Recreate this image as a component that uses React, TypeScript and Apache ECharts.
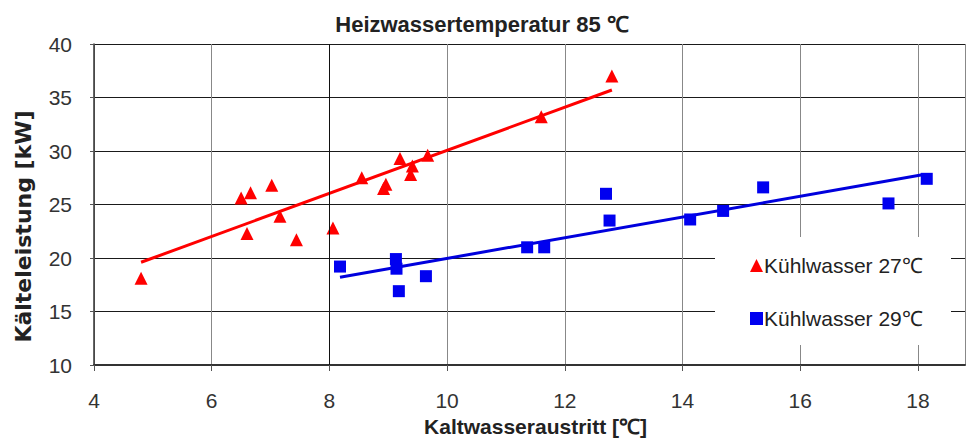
import React, { useEffect, useRef } from "react";
import * as echarts from "echarts";

const titleText = "Heizwassertemperatur 85 ℃";
const xName = "Kaltwasseraustritt [℃]";
const yName = "Kälteleistung [kW]";
const series27Name = "Kühlwasser 27℃";
const series29Name = "Kühlwasser 29℃";

const red27X = [4.8, 6.5, 6.66, 6.6, 7.02, 7.16, 7.44, 8.06, 8.55, 8.92, 8.96, 9.2, 9.41, 9.38, 9.67, 11.6, 12.8];
const red27Y = [18.1, 25.6, 26.1, 22.3, 26.8, 23.9, 21.7, 22.8, 27.5, 26.5, 26.9, 29.3, 28.6, 27.8, 29.6, 33.2, 37.0];
const blue29X = [8.18, 9.13, 9.14, 9.18, 9.64, 11.36, 11.65, 12.7, 12.76, 14.13, 14.69, 15.37, 17.5, 18.15];
const blue29Y = [19.2, 19.9, 19.0, 16.9, 18.3, 21.0, 21.0, 26.0, 23.5, 23.6, 24.4, 26.6, 25.1, 27.4];
const fit27X = [4.8, 12.8];
const fit27Y = [19.6, 35.7];
const fit29X = [8.18, 18.1];
const fit29Y = [18.2, 27.8];

const FONT = "Liberation Sans";

const zip = (xs: number[], ys: number[]) => xs.map((x, i) => [x, ys[i]]);

export default function App() {
  const ref = useRef<HTMLDivElement>(null);
  useEffect(() => {
    if (!ref.current) return;
    const chart = echarts.init(ref.current, null, { renderer: "svg" });
    chart.setOption({
      animation: false,
      backgroundColor: "#ffffff",
      title: {
        text: titleText,
        left: 477,
        textAlign: "center",
        top: 8,
        textStyle: { fontFamily: FONT, fontSize: 22, fontWeight: "bold", color: "#222" },
      },
      grid: { left: 94, right: 3, top: 44, bottom: 76, containLabel: false, outerBoundsMode: "none" },
      xAxis: {
        type: "value",
        min: 4,
        max: 18.8,
        interval: 2,
        name: xName,
        nameLocation: "middle",
        nameGap: 51,
        nameTextStyle: { fontFamily: FONT, fontSize: 21, fontWeight: "bold", color: "#222", padding: [0, 0, 0, 12] },
        axisLine: { lineStyle: { color: "#333", width: 2 } },
        axisTick: { show: true, length: 6, lineStyle: { color: "#555" } },
        axisLabel: { fontFamily: FONT, fontSize: 21, color: "#333", margin: 25, showMaxLabel: false },
        splitLine: { show: true, lineStyle: { color: "#888", width: 1 } },
      },
      yAxis: {
        type: "value",
        min: 10,
        max: 40,
        interval: 5,
        name: yName,
        nameLocation: "middle",
        nameGap: 60,
        nameTextStyle: {
          fontFamily: "DejaVu Sans",
          fontSize: 22,
          fontWeight: "bold",
          color: "#222",
          padding: [0, 44, 0, 0],
        },
        axisLine: { show: true, lineStyle: { color: "#333", width: 1.5 } },
        axisTick: { show: true, length: 4, lineStyle: { color: "#555" } },
        axisLabel: { fontFamily: FONT, fontSize: 21, color: "#333", margin: 22 },
        splitLine: { show: true, lineStyle: { color: "#1a1a1a", width: 1 } },
      },
      legend: {
        orient: "vertical",
        left: 745,
        top: 250,
        itemGap: 32,
        itemWidth: 13,
        itemHeight: 13,
        z: 10,
        data: [
          { name: series27Name, icon: "triangle" },
          { name: series29Name, icon: "rect" },
        ],
        textStyle: { fontFamily: FONT, fontSize: 21, color: "#222", padding: [0, 0, 0, -4] },
      },
      graphic: [
        {
          type: "rect",
          z: 5,
          shape: { x: 715, y: 237, width: 236, height: 108 },
          style: { fill: "#ffffff", stroke: "none" },
        },
      ],
      series: [
        {
          name: series27Name,
          type: "scatter",
          symbol: "triangle",
          symbolSize: 13,
          itemStyle: { color: "#ff0000", opacity: 1 },
          data: zip(red27X, red27Y),
          z: 4,
          markLine: {
            silent: true,
            symbol: "none",
            label: { show: false },
            lineStyle: { color: "#111", width: 1, type: "solid" },
            data: [{ xAxis: 8 }],
          },
        },
        {
          name: series29Name,
          type: "scatter",
          symbol: "rect",
          symbolSize: 12,
          itemStyle: { color: "#0000f0", opacity: 1 },
          data: zip(blue29X, blue29Y),
          z: 4,
        },
        {
          name: "fit27",
          type: "line",
          showSymbol: false,
          symbol: "none",
          lineStyle: { color: "#ff0000", width: 3 },
          data: zip(fit27X, fit27Y),
          z: 3,
        },
        {
          name: "fit29",
          type: "line",
          showSymbol: false,
          symbol: "none",
          lineStyle: { color: "#0000dd", width: 3 },
          data: zip(fit29X, fit29Y),
          z: 3,
        },
      ],
    });
    return () => chart.dispose();
  }, []);
  return <div ref={ref} style={{ width: 968, height: 441, position: "absolute", left: 0, top: 0 }} />;
}
